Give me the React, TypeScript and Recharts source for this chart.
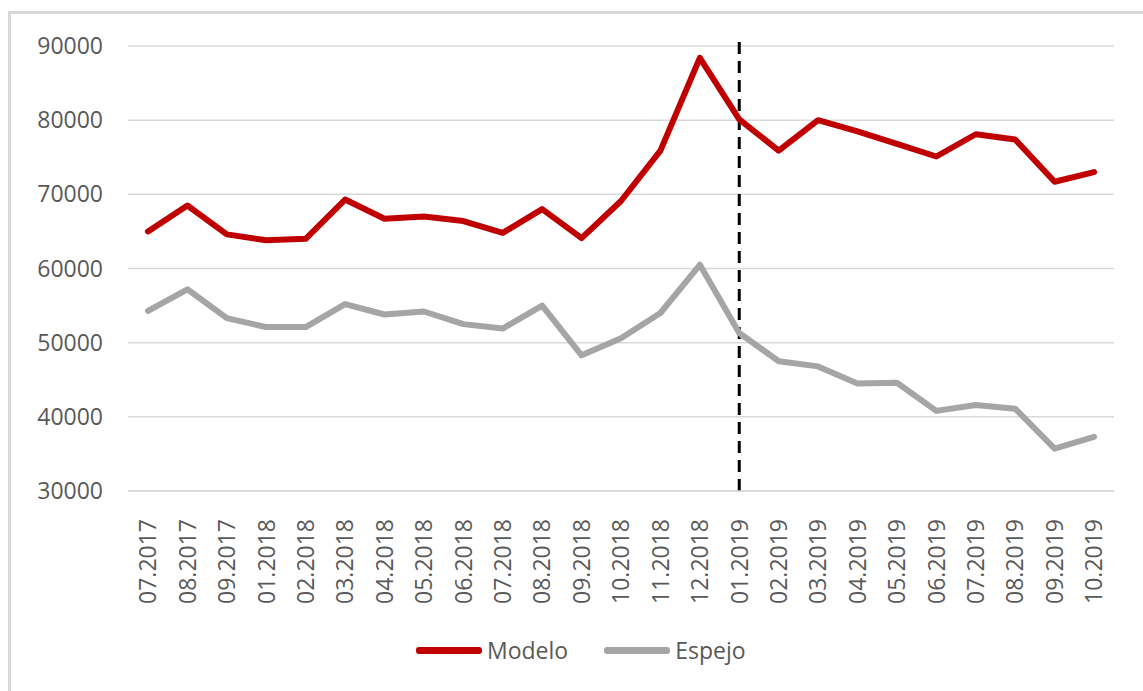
import React from "react"
import { CartesianGrid, Line, LineChart, ReferenceLine, XAxis, YAxis } from "recharts"

// monthly periods on the category axis
const months = [
  "07.2017", "08.2017", "09.2017", "01.2018", "02.2018", "03.2018", "04.2018",
  "05.2018", "06.2018", "07.2018", "08.2018", "09.2018", "10.2018", "11.2018",
  "12.2018", "01.2019", "02.2019", "03.2019", "04.2019", "05.2019", "06.2019",
  "07.2019", "08.2019", "09.2019", "10.2019",
]

const modelo = [
  65000, 68500, 64600, 63800, 64000, 69300, 66700, 67000, 66400, 64800, 68000, 64100,
  69100, 75900, 88400, 80100, 75900, 80000, 78500, 76800, 75100, 78100, 77400, 71700, 73000,
]

const espejo = [
  54300, 57200, 53300, 52100, 52100, 55200, 53800, 54200, 52500, 51900, 55000, 48300,
  50600, 54000, 60500, 51300, 47500, 46800, 44500, 44600, 40800, 41600, 41100, 35700, 37300,
]

const yTicks = [30000, 40000, 50000, 60000, 70000, 80000, 90000]
const cutoff = "01.2019"

const series = [
  { key: "modelo", name: "Modelo", color: "#C00000" },
  { key: "espejo", name: "Espejo", color: "#A5A5A5" },
]

const data = months.map((m, i) => ({ month: m, modelo: modelo[i], espejo: espejo[i] }))

const FONT = "'Open Sans', sans-serif"
const TEXT = "#595959"
const GRID = "#D9D9D9"

function MonthTick(props: any) {
  const { x, y, payload } = props
  return (
    <text
      x={x}
      y={y + 20}
      transform={`rotate(-90, ${x}, ${y + 20})`}
      textAnchor="end"
      dy="0.36em"
      fill={TEXT}
      fontSize={23}
      fontFamily={FONT}
    >
      {payload.value}
    </text>
  )
}

function CutoffLine(p: any) {
  return (
    <line
      x1={p.x1}
      x2={p.x2}
      y1={Math.min(p.y1, p.y2) - 4}
      y2={Math.max(p.y1, p.y2) + 2}
      stroke="#000"
      strokeWidth={3}
      strokeDasharray="12 7"
    />
  )
}

export default function App() {
  return (
    <div style={{ position: "absolute", left: 0, top: 0, width: 1143, height: 691, overflow: "hidden", background: "#fff" }}>
      <div
        style={{
          position: "absolute",
          left: 8,
          top: 11,
          width: 1300,
          height: 900,
          borderTop: `3px solid ${GRID}`,
          borderLeft: `3px solid ${GRID}`,
        }}
      />
      <LineChart
        width={1143}
        height={691}
        data={data}
        margin={{ top: 46, right: 29, left: 0, bottom: 0 }}
        style={{ position: "absolute", left: 0, top: 0 }}
      >
        <CartesianGrid vertical={false} stroke={GRID} strokeWidth={1.5} />
        <XAxis
          dataKey="month"
          interval={0}
          height={200}
          padding={{ left: 20, right: 20 }}
          axisLine={{ stroke: GRID, strokeWidth: 1.5 }}
          tickLine={false}
          tick={<MonthTick />}
        />
        <YAxis
          domain={[30000, 90000]}
          ticks={yTicks}
          width={128}
          axisLine={false}
          tickLine={false}
          tickSize={0}
          tickMargin={25}
          tick={{ fill: TEXT, fontSize: 23, fontFamily: FONT }}
        />
        <ReferenceLine x={cutoff} shape={<CutoffLine />} />
        {series.map((s) => (
          <Line
            key={s.key}
            type="linear"
            dataKey={s.key}
            name={s.name}
            stroke={s.color}
            strokeWidth={6}
            strokeLinejoin="round"
            strokeLinecap="round"
            dot={false}
            activeDot={false}
            isAnimationActive={false}
          />
        ))}
      </LineChart>
      <div
        style={{
          position: "absolute",
          left: 416,
          top: 634,
          display: "flex",
          alignItems: "center",
          fontFamily: FONT,
          fontSize: 23,
          color: TEXT,
        }}
      >
        {series.map((s, i) => (
          <div key={s.key} style={{ display: "flex", alignItems: "center", marginLeft: i === 0 ? 0 : 36 }}>
            <span style={{ display: "inline-block", width: 66, height: 7, borderRadius: 3, background: s.color }} />
            <span style={{ marginLeft: 5 }}>{s.name}</span>
          </div>
        ))}
      </div>
    </div>
  )
}
